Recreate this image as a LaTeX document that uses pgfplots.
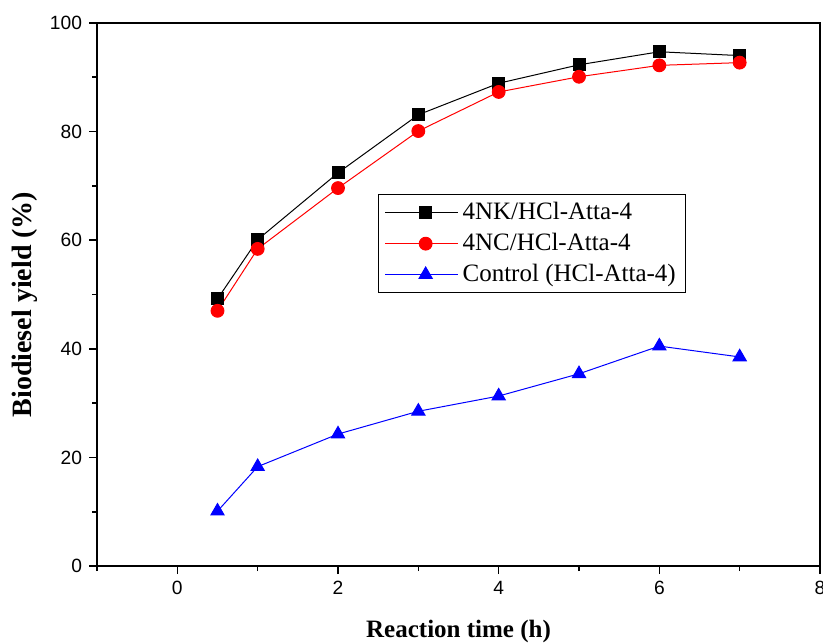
\documentclass[border=0pt]{standalone}
\usepackage{fontspec}
\setmainfont{Liberation Serif}
\newfontfamily\arialfont{Liberation Sans}
\usepackage{pgfplots}
\pgfplotsset{compat=1.18}

\begin{document}
\begin{tikzpicture}
\begin{axis}[
    name=ax,
    width=361.5pt, height=271.5pt,
    scale only axis,
    xmin=-1, xmax=8,
    ymin=0, ymax=100,
    xtick={0,2,4,6,8},
    ytick={0,20,40,60,80,100},
    minor xtick={-1,1,3,5,7},
    minor ytick={10,30,50,70,90},
    tick align=outside,
    xtick pos=bottom, ytick pos=left,
    major tick length=4pt, minor tick length=2.5pt,
    every tick/.style={black, line width=0.8pt},
    axis line style={line width=1pt},
    /pgf/number format/assume math mode=true,
    ticklabel style={font=\arialfont\fontsize{9.6}{11}\selectfont},
    xlabel={\textbf{Reaction time (h)}},
    ylabel={\textbf{Biodiesel yield (\%)}},
    every axis x label/.style={at={(axis description cs:0.5,0)}, anchor=center, yshift=-32.5pt,
        font=\fontsize{12.5}{14}\selectfont},
    every axis y label/.style={at={(axis description cs:0,0.5)}, anchor=center, rotate=90,
        yshift=36pt, xshift=-5pt, font=\fontsize{14}{16}\selectfont},
    legend cell align=left,
    legend style={at={(0.389,0.685)}, anchor=north west, draw=black, line width=0.5pt,
        font=\fontsize{12.5}{15}\selectfont, row sep=1.3pt, inner xsep=3pt, inner ysep=2pt},
    legend image code/.code={\path (0cm,0cm) -- (1.28cm,0cm);
        \draw[mark repeat=2,mark phase=2] plot coordinates {(0.21cm,0cm)(0.71cm,0cm)(1.21cm,0cm)};},
]
\addplot[black, line width=0.5pt, mark=square*, mark size=3pt, mark options={solid}] coordinates {
    (0.5,49.2) (1,60.1) (2,72.4) (3,83.1) (4,88.9) (5,92.3) (6,94.7) (7,94.0)
};
\addplot[red, line width=0.5pt, mark=*, mark size=3.2pt] coordinates {
    (0.5,47.0) (1,58.4) (2,69.6) (3,80.1) (4,87.3) (5,90.1) (6,92.2) (7,92.7)
};
\addplot[blue, line width=0.5pt, mark=triangle*, mark size=3.8pt] coordinates {
    (0.5,10.1) (1,18.3) (2,24.3) (3,28.5) (4,31.3) (5,35.4) (6,40.5) (7,38.5)
};
\legend{4NK/HCl-Atta-4, 4NC/HCl-Atta-4, Control (HCl-Atta-4)}
\end{axis}
\pgfresetboundingbox
\path ([xshift=-48.5pt,yshift=-38pt]ax.south west) rectangle ([xshift=1.5pt,yshift=11.5pt]ax.north east);
\end{tikzpicture}
\end{document}
